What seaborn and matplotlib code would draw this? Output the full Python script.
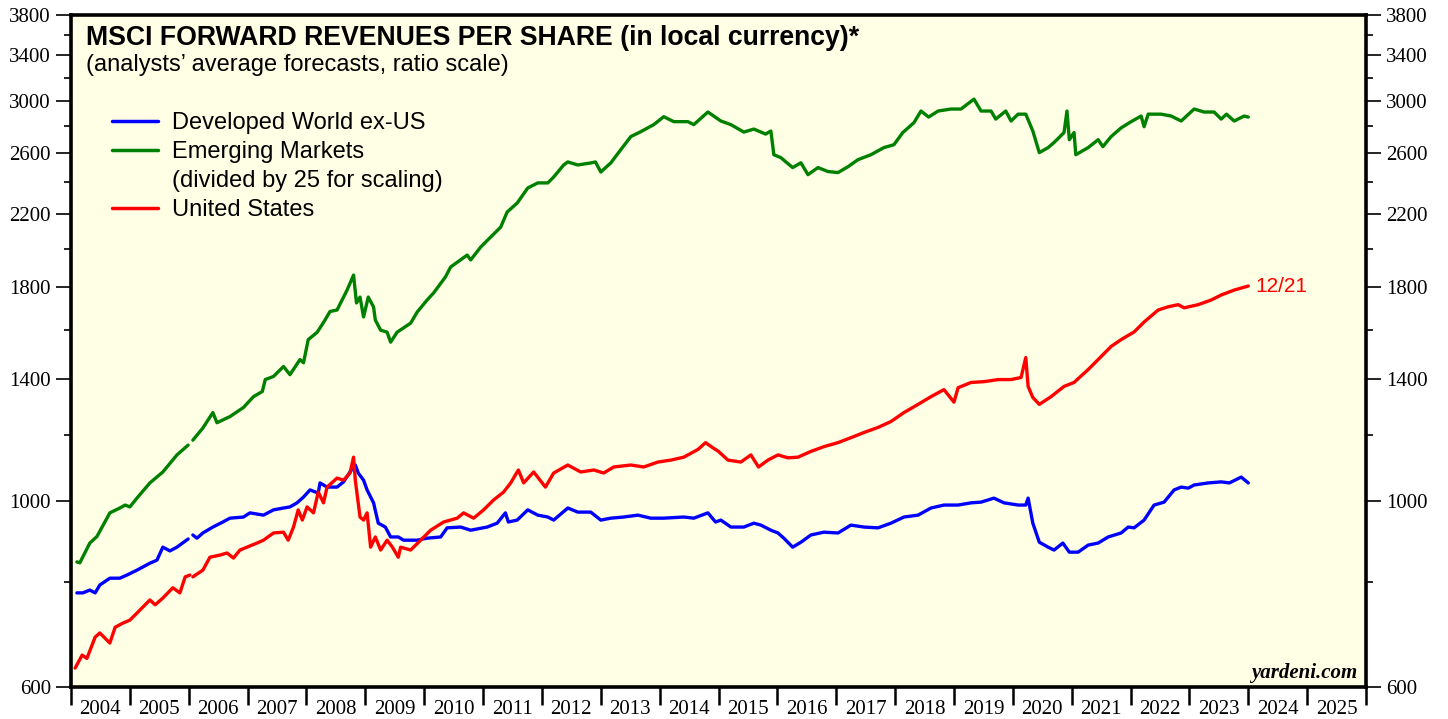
import numpy as np
import pandas as pd
import matplotlib
matplotlib.use("Agg")
import matplotlib.pyplot as plt
import seaborn as sns
from matplotlib.lines import Line2D
from matplotlib.ticker import FixedLocator, NullFormatter, FixedFormatter

# ---------------- data (decimal years, values) ----------------
# Emerging Markets (divided by 25 for scaling); segment 1 = monthly, segment 2 = weekly
em_year_1 = [2004.10, 2004.15, 2004.32, 2004.44, 2004.66, 2004.83, 2004.92, 2005.00, 2005.12,
             2005.34, 2005.56, 2005.80, 2005.99]
em_val_1 = [846, 844, 891, 907, 968, 981, 989, 984, 1008, 1051, 1083, 1135, 1166]
em_year_2 = [2006.07, 2006.24, 2006.41, 2006.48, 2006.70, 2006.93, 2007.10, 2007.25, 2007.30, 2007.44,
             2007.61, 2007.72, 2007.89, 2007.95, 2008.03, 2008.18, 2008.29, 2008.40, 2008.52, 2008.69,
             2008.80, 2008.85, 2008.91, 2008.97, 2009.05, 2009.14, 2009.17, 2009.26, 2009.37, 2009.43,
             2009.54, 2009.77, 2009.88, 2010.05, 2010.16, 2010.36, 2010.45, 2010.73, 2010.79, 2010.96,
             2011.13, 2011.30, 2011.41, 2011.58, 2011.76, 2011.93, 2012.10, 2012.20, 2012.37, 2012.44,
             2012.61, 2012.83, 2012.91, 2013.00, 2013.17, 2013.34, 2013.51, 2013.68, 2013.90, 2014.07,
             2014.24, 2014.48, 2014.58, 2014.82, 2015.04, 2015.21, 2015.43, 2015.60, 2015.80, 2015.89,
             2015.94, 2016.06, 2016.26, 2016.40, 2016.52, 2016.69, 2016.86, 2017.03, 2017.20, 2017.37,
             2017.59, 2017.81, 2017.98, 2018.13, 2018.32, 2018.44, 2018.57, 2018.73, 2018.95, 2019.12,
             2019.34, 2019.46, 2019.63, 2019.71, 2019.88, 2019.97, 2020.09, 2020.22, 2020.34, 2020.45,
             2020.60, 2020.70, 2020.87, 2020.92, 2020.96, 2021.04, 2021.07, 2021.28, 2021.45, 2021.53,
             2021.67, 2021.84, 2022.01, 2022.18, 2022.23, 2022.30, 2022.52, 2022.69, 2022.86, 2023.08,
             2023.25, 2023.42, 2023.54, 2023.63, 2023.76, 2023.93, 2024.00]
em_val_2 = [1182, 1222, 1275, 1240, 1261, 1293, 1332, 1351, 1396, 1408,
            1447, 1415, 1475, 1462, 1558, 1589, 1633, 1683, 1690, 1785,
            1860, 1723, 1751, 1658, 1751, 1704, 1644, 1599, 1590, 1547,
            1590, 1630, 1680, 1737, 1771, 1850, 1902, 1965, 1939, 2009,
            2065, 2122, 2212, 2267, 2363, 2396, 2396, 2435, 2517, 2538,
            2517, 2531, 2538, 2469, 2531, 2625, 2721, 2758, 2812, 2874,
            2835, 2835, 2812, 2911, 2840, 2812, 2755, 2778, 2740, 2763,
            2589, 2568, 2499, 2532, 2451, 2499, 2472, 2465, 2505, 2554,
            2589, 2640, 2661, 2751, 2827, 2919, 2871, 2919, 2935, 2935,
            3016, 2919, 2919, 2855, 2919, 2840, 2894, 2894, 2763, 2604,
            2640, 2677, 2751, 2919, 2698, 2751, 2589, 2640, 2698, 2647,
            2721, 2787, 2835, 2879, 2796, 2894, 2894, 2879, 2840, 2935,
            2911, 2911, 2855, 2894, 2840, 2879, 2871]

# Developed World ex-US
dw_year_1 = [2004.10, 2004.20, 2004.32, 2004.41, 2004.49, 2004.66, 2004.83, 2004.95, 2005.12,
             2005.34, 2005.46, 2005.56, 2005.68, 2005.80, 2005.99]
dw_val_1 = [777, 777, 783, 777, 794, 809, 809, 816, 827, 843, 850, 881, 872, 881, 901]
dw_year_2 = [2006.07, 2006.14, 2006.24, 2006.41, 2006.58, 2006.70, 2006.93, 2007.04, 2007.27, 2007.44,
             2007.61, 2007.72, 2007.84, 2007.95, 2008.06, 2008.20, 2008.23, 2008.35, 2008.52, 2008.63,
             2008.74, 2008.83, 2008.88, 2008.97, 2009.03, 2009.14, 2009.22, 2009.34, 2009.43, 2009.56,
             2009.65, 2009.88, 2010.05, 2010.28, 2010.39, 2010.62, 2010.79, 2011.07, 2011.24, 2011.38,
             2011.43, 2011.58, 2011.76, 2011.93, 2012.10, 2012.20, 2012.44, 2012.61, 2012.83, 2013.00,
             2013.17, 2013.39, 2013.63, 2013.85, 2014.07, 2014.41, 2014.58, 2014.82, 2014.95, 2015.04,
             2015.21, 2015.43, 2015.60, 2015.72, 2015.89, 2016.01, 2016.11, 2016.26, 2016.40, 2016.57,
             2016.79, 2017.03, 2017.25, 2017.47, 2017.71, 2017.93, 2018.15, 2018.39, 2018.61, 2018.83,
             2019.07, 2019.29, 2019.46, 2019.68, 2019.85, 2020.09, 2020.22, 2020.26, 2020.34, 2020.45,
             2020.60, 2020.70, 2020.85, 2020.96, 2021.11, 2021.28, 2021.45, 2021.62, 2021.84, 2021.96,
             2022.06, 2022.23, 2022.40, 2022.57, 2022.74, 2022.86, 2022.98, 2023.08, 2023.32, 2023.54,
             2023.68, 2023.88, 2024.00]
dw_val_2 = [911, 903, 916, 931, 944, 954, 957, 968, 962, 976,
            981, 984, 995, 1011, 1031, 1022, 1051, 1039, 1039, 1054,
            1083, 1104, 1080, 1059, 1031, 995, 941, 931, 906, 906,
            898, 898, 903, 906, 929, 931, 923, 931, 941, 968,
            944, 949, 976, 962, 957, 949, 981, 970, 970, 949,
            954, 957, 962, 954, 954, 957, 954, 968, 944, 949,
            931, 931, 941, 936, 923, 916, 903, 881, 893, 911,
            918, 916, 936, 931, 929, 941, 957, 962, 981, 989,
            989, 995, 997, 1008, 995, 989, 989, 1008, 941, 893,
            881, 874, 891, 869, 869, 886, 891, 906, 916, 931,
            929, 949, 989, 997, 1031, 1039, 1036, 1045, 1051, 1054,
            1051, 1068, 1051]

# United States
us_year_1 = [2004.07, 2004.19, 2004.27, 2004.41, 2004.49, 2004.66, 2004.75, 2004.88, 2005.00, 2005.12,
             2005.34, 2005.43, 2005.56, 2005.73, 2005.85, 2005.94, 2006.02]
us_val_1 = [632, 655, 649, 688, 696, 677, 707, 715, 721, 735, 762, 752, 766, 788, 777, 812, 816]
us_year_2 = [2006.07, 2006.24, 2006.36, 2006.53, 2006.65, 2006.76, 2006.87, 2006.99, 2007.16, 2007.27,
             2007.44, 2007.61, 2007.69, 2007.78, 2007.86, 2007.93, 2008.01, 2008.12, 2008.20, 2008.29,
             2008.35, 2008.52, 2008.63, 2008.74, 2008.80, 2008.83, 2008.91, 2008.97, 2009.03, 2009.09,
             2009.17, 2009.26, 2009.37, 2009.46, 2009.56, 2009.60, 2009.77, 2009.94, 2010.11, 2010.33,
             2010.56, 2010.67, 2010.84, 2011.01, 2011.18, 2011.35, 2011.47, 2011.60, 2011.69, 2011.86,
             2012.06, 2012.20, 2012.44, 2012.66, 2012.88, 2013.05, 2013.22, 2013.51, 2013.73, 2013.97,
             2014.19, 2014.41, 2014.65, 2014.78, 2014.90, 2015.00, 2015.16, 2015.38, 2015.55, 2015.68,
             2015.84, 2016.01, 2016.18, 2016.35, 2016.57, 2016.79, 2017.03, 2017.25, 2017.47, 2017.71,
             2017.93, 2018.15, 2018.39, 2018.61, 2018.83, 2019.00, 2019.07, 2019.29, 2019.51, 2019.75,
             2019.97, 2020.14, 2020.22, 2020.26, 2020.34, 2020.45, 2020.65, 2020.87, 2021.04, 2021.28,
             2021.45, 2021.67, 2021.84, 2022.06, 2022.23, 2022.47, 2022.64, 2022.81, 2022.91, 2023.15,
             2023.37, 2023.54, 2023.76, 2024.00]
us_val_2 = [812, 827, 857, 862, 867, 855, 874, 881, 891, 898,
            916, 918, 898, 931, 976, 949, 984, 968, 1025, 995,
            1039, 1065, 1059, 1080, 1128, 1059, 957, 949, 968, 881,
            906, 874, 898, 881, 857, 881, 874, 898, 923, 944,
            954, 968, 954, 976, 1003, 1025, 1051, 1089, 1051, 1083,
            1039, 1080, 1104, 1083, 1089, 1080, 1098, 1104, 1098, 1113,
            1119, 1128, 1152, 1174, 1158, 1146, 1119, 1113, 1135, 1098,
            1119, 1135, 1126, 1128, 1146, 1161, 1174, 1190, 1207, 1224,
            1244, 1275, 1304, 1332, 1358, 1312, 1365, 1385, 1388, 1396,
            1396, 1404, 1483, 1370, 1329, 1304, 1332, 1370, 1385, 1435,
            1475, 1529, 1558, 1591, 1635, 1690, 1705, 1715, 1700, 1715,
            1737, 1761, 1785, 1805]

series_names = ["Developed World ex-US", "Emerging Markets", "United States"]
series_colors = ["#0000FF", "#008000", "#FF0000"]
y_major = [600, 1000, 1400, 1800, 2200, 2600, 3000, 3400, 3800]
y_minor = [800, 1200, 1600, 2000, 2400, 2800, 3200, 3600]
years = list(range(2004, 2026))
last_label = "12/21"

# ---------------- build long table ----------------
frames = []
for name, segs in [
    ("Developed World ex-US", [(dw_year_1, dw_val_1), (dw_year_2, dw_val_2)]),
    ("Emerging Markets", [(em_year_1, em_val_1), (em_year_2, em_val_2)]),
    ("United States", [(us_year_1, us_val_1), (us_year_2, us_val_2)]),
]:
    for i, (yr, vl) in enumerate(segs):
        frames.append(pd.DataFrame({"year": yr, "value": vl, "series": name, "segment": f"{name}-{i}"}))
df = pd.concat(frames, ignore_index=True)

# ---------------- figure ----------------
sns.set_theme(style="white")
plt.rcParams["font.family"] = ["Liberation Sans", "DejaVu Sans"]
plt.rcParams["text.color"] = "black"
plt.rcParams["axes.labelcolor"] = "black"

fig = plt.figure(figsize=(14.48, 7.19), dpi=100)
ax = fig.add_axes([71 / 1448, 32 / 719, 1295 / 1448, 672 / 719])
ax.set_facecolor("#FFFFE5")

sns.lineplot(data=df, x="year", y="value", hue="series", units="segment", estimator=None,
             hue_order=series_names, palette=dict(zip(series_names, series_colors)),
             sort=False, legend=False, linewidth=2.4, ax=ax)

ax.set_yscale("log")
ax.set_xlim(2004, 2026)
ax.set_ylim(600, 3800)
ax.set_xlabel("")
ax.set_ylabel("")

# y ticks
ax.yaxis.set_major_locator(FixedLocator(y_major))
ax.yaxis.set_major_formatter(FixedFormatter([str(v) for v in y_major]))
ax.yaxis.set_minor_locator(FixedLocator(y_minor))
ax.yaxis.set_minor_formatter(NullFormatter())
ax.tick_params(axis="y", which="major", direction="out", length=11, width=1.2, pad=3.5,
               left=True, right=True, labelleft=True, labelright=True, labelsize=15, colors="black")
ax.tick_params(axis="y", which="minor", direction="out", length=5, width=1.2, left=True, right=True,
               colors="black")

# x ticks: boundaries as majors, labels centred on minors
ax.xaxis.set_major_locator(FixedLocator(years + [2026]))
ax.xaxis.set_major_formatter(NullFormatter())
ax.xaxis.set_minor_locator(FixedLocator([y + 0.5 for y in years]))
ax.xaxis.set_minor_formatter(FixedFormatter([str(y) for y in years]))
ax.tick_params(axis="x", which="major", direction="out", length=13, width=1.8, bottom=True,
               colors="black")
ax.tick_params(axis="x", which="minor", length=0, pad=9, labelsize=15, bottom=True, colors="black")

for lab in ax.get_yticklabels() + ax.get_xticklabels(minor=True):
    lab.set_fontfamily("Liberation Serif")

for s in ax.spines.values():
    s.set_visible(True)
    s.set_linewidth(2.6)
    s.set_color("black")

# titles
ax.text(0.0116, 0.955, "MSCI FORWARD REVENUES PER SHARE (in local currency)*", transform=ax.transAxes,
        fontsize=19.2, fontweight="bold", va="baseline", ha="left", color="black")
ax.text(0.0116, 0.916, "(analysts\u2019 average forecasts, ratio scale)", transform=ax.transAxes,
        fontsize=17, va="baseline", ha="left", color="black")

# legend
handles = [Line2D([], [], color=series_colors[0], lw=2.5),
           Line2D([], [], color=series_colors[1], lw=2.5),
           Line2D([], [], color="none", lw=0),
           Line2D([], [], color=series_colors[2], lw=2.5)]
labels = ["Developed World ex-US", "Emerging Markets", "(divided by 25 for scaling)", "United States"]
leg = ax.legend(handles, labels, loc="upper left", bbox_to_anchor=(0.0317, 0.855), frameon=False,
                fontsize=17, handlelength=1.95, handletextpad=0.6, labelspacing=0.29, borderpad=0,
                borderaxespad=0)
for t in leg.get_texts():
    t.set_color("black")

# end label
ax.annotate(last_label, xy=(us_year_2[-1], us_val_2[-1]), xytext=(5, 0), textcoords="offset points",
            color="#FF0000", fontsize=15, va="center", ha="left")

ax.text(0.993, 0.013, "yardeni.com", transform=ax.transAxes, fontsize=15, fontweight="bold",
        fontstyle="italic", fontfamily="Liberation Serif", ha="right", va="baseline", color="black")

fig.savefig("out.png", dpi=100, facecolor="white")
